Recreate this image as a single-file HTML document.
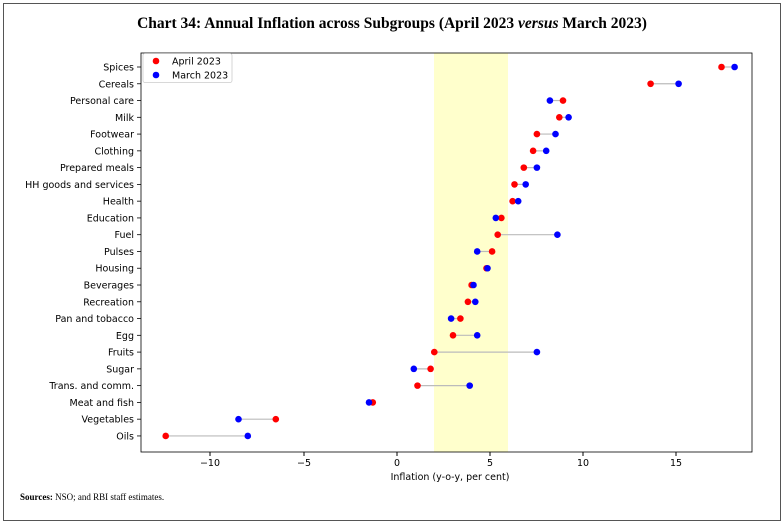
<!DOCTYPE html>
<html><head><meta charset="utf-8"><style>
body{margin:0;background:#fff;}
svg{display:block;}
</style></head><body>
<svg width="784" height="524" viewBox="0 0 784 524" xmlns="http://www.w3.org/2000/svg">
<rect x="3.5" y="3.5" width="777" height="517" fill="#fff" stroke="#555" stroke-width="1"/>
<text x="392" y="28" text-anchor="middle" font-family="Liberation Serif, serif" font-size="15.5" font-weight="bold">Chart 34: Annual Inflation across Subgroups (April 2023 <tspan font-style="italic">versus</tspan> March 2023)</text>
<rect x="434" y="53" width="74" height="399" fill="#ffffcc"/>
<g stroke="#bbb" stroke-width="1.2">
<line x1="721.5" y1="67" x2="734.6" y2="67"/>
<line x1="650.6" y1="83.77" x2="678.6" y2="83.77"/>
<line x1="563" y1="100.54" x2="549.9" y2="100.54"/>
<line x1="559.3" y1="117.31" x2="568.6" y2="117.31"/>
<line x1="536.9" y1="134.08" x2="555.5" y2="134.08"/>
<line x1="533.1" y1="150.85" x2="546.2" y2="150.85"/>
<line x1="523.8" y1="167.62" x2="536.9" y2="167.62"/>
<line x1="514.5" y1="184.39" x2="525.7" y2="184.39"/>
<line x1="512.6" y1="201.16" x2="518.2" y2="201.16"/>
<line x1="501.4" y1="217.93" x2="495.8" y2="217.93"/>
<line x1="497.7" y1="234.7" x2="557.4" y2="234.7"/>
<line x1="492.1" y1="251.47" x2="477.2" y2="251.47"/>
<line x1="471.6" y1="285.01" x2="473.5" y2="285.01"/>
<line x1="467.9" y1="301.78" x2="475.3" y2="301.78"/>
<line x1="460.4" y1="318.55" x2="451.1" y2="318.55"/>
<line x1="453" y1="335.32" x2="477.2" y2="335.32"/>
<line x1="434.3" y1="352.09" x2="536.9" y2="352.09"/>
<line x1="430.6" y1="368.86" x2="413.8" y2="368.86"/>
<line x1="417.5" y1="385.63" x2="469.7" y2="385.63"/>
<line x1="372.8" y1="402.4" x2="369" y2="402.4"/>
<line x1="275.8" y1="419.17" x2="238.5" y2="419.17"/>
<line x1="165.7" y1="435.94" x2="247.8" y2="435.94"/>
</g>
<g fill="red">
<circle cx="721.5" cy="67" r="3.3"/><circle cx="650.6" cy="83.77" r="3.3"/><circle cx="563" cy="100.54" r="3.3"/><circle cx="559.3" cy="117.31" r="3.3"/><circle cx="536.9" cy="134.08" r="3.3"/><circle cx="533.1" cy="150.85" r="3.3"/><circle cx="523.8" cy="167.62" r="3.3"/><circle cx="514.5" cy="184.39" r="3.3"/><circle cx="512.6" cy="201.16" r="3.3"/><circle cx="501.4" cy="217.93" r="3.3"/><circle cx="497.7" cy="234.7" r="3.3"/><circle cx="492.1" cy="251.47" r="3.3"/><circle cx="486.5" cy="268.24" r="3.3"/><circle cx="471.6" cy="285.01" r="3.3"/><circle cx="467.9" cy="301.78" r="3.3"/><circle cx="460.4" cy="318.55" r="3.3"/><circle cx="453" cy="335.32" r="3.3"/><circle cx="434.3" cy="352.09" r="3.3"/><circle cx="430.6" cy="368.86" r="3.3"/><circle cx="417.5" cy="385.63" r="3.3"/><circle cx="372.8" cy="402.4" r="3.3"/><circle cx="275.8" cy="419.17" r="3.3"/><circle cx="165.7" cy="435.94" r="3.3"/>
</g>
<g fill="blue">
<circle cx="734.6" cy="67" r="3.3"/><circle cx="678.6" cy="83.77" r="3.3"/><circle cx="549.9" cy="100.54" r="3.3"/><circle cx="568.6" cy="117.31" r="3.3"/><circle cx="555.5" cy="134.08" r="3.3"/><circle cx="546.2" cy="150.85" r="3.3"/><circle cx="536.9" cy="167.62" r="3.3"/><circle cx="525.7" cy="184.39" r="3.3"/><circle cx="518.2" cy="201.16" r="3.3"/><circle cx="495.8" cy="217.93" r="3.3"/><circle cx="557.4" cy="234.7" r="3.3"/><circle cx="477.2" cy="251.47" r="3.3"/><circle cx="487.5" cy="268.24" r="3.3"/><circle cx="473.5" cy="285.01" r="3.3"/><circle cx="475.3" cy="301.78" r="3.3"/><circle cx="451.1" cy="318.55" r="3.3"/><circle cx="477.2" cy="335.32" r="3.3"/><circle cx="536.9" cy="352.09" r="3.3"/><circle cx="413.8" cy="368.86" r="3.3"/><circle cx="469.7" cy="385.63" r="3.3"/><circle cx="369" cy="402.4" r="3.3"/><circle cx="238.5" cy="419.17" r="3.3"/><circle cx="247.8" cy="435.94" r="3.3"/>
</g>
<g font-family="DejaVu Sans, sans-serif" font-size="9.5" text-anchor="end">
<text x="134" y="70.5">Spices</text>
<text x="134" y="87.3">Cereals</text>
<text x="134" y="104">Personal care</text>
<text x="134" y="120.8">Milk</text>
<text x="134" y="137.6">Footwear</text>
<text x="134" y="154.4">Clothing</text>
<text x="134" y="171.1">Prepared meals</text>
<text x="134" y="187.9">HH goods and services</text>
<text x="134" y="204.7">Health</text>
<text x="134" y="221.4">Education</text>
<text x="134" y="238.2">Fuel</text>
<text x="134" y="255">Pulses</text>
<text x="134" y="271.7">Housing</text>
<text x="134" y="288.5">Beverages</text>
<text x="134" y="305.3">Recreation</text>
<text x="134" y="322">Pan and tobacco</text>
<text x="134" y="338.8">Egg</text>
<text x="134" y="355.6">Fruits</text>
<text x="134" y="372.4">Sugar</text>
<text x="134" y="389.1">Trans. and comm.</text>
<text x="134" y="405.9">Meat and fish</text>
<text x="134" y="422.7">Vegetables</text>
<text x="134" y="439.4">Oils</text>
</g>
<g stroke="#000" stroke-width="0.8">
<line x1="137" y1="67" x2="141" y2="67"/><line x1="137" y1="83.77" x2="141" y2="83.77"/><line x1="137" y1="100.54" x2="141" y2="100.54"/><line x1="137" y1="117.31" x2="141" y2="117.31"/><line x1="137" y1="134.08" x2="141" y2="134.08"/><line x1="137" y1="150.85" x2="141" y2="150.85"/><line x1="137" y1="167.62" x2="141" y2="167.62"/><line x1="137" y1="184.39" x2="141" y2="184.39"/><line x1="137" y1="201.16" x2="141" y2="201.16"/><line x1="137" y1="217.93" x2="141" y2="217.93"/><line x1="137" y1="234.7" x2="141" y2="234.7"/><line x1="137" y1="251.47" x2="141" y2="251.47"/><line x1="137" y1="268.24" x2="141" y2="268.24"/><line x1="137" y1="285.01" x2="141" y2="285.01"/><line x1="137" y1="301.78" x2="141" y2="301.78"/><line x1="137" y1="318.55" x2="141" y2="318.55"/><line x1="137" y1="335.32" x2="141" y2="335.32"/><line x1="137" y1="352.09" x2="141" y2="352.09"/><line x1="137" y1="368.86" x2="141" y2="368.86"/><line x1="137" y1="385.63" x2="141" y2="385.63"/><line x1="137" y1="402.4" x2="141" y2="402.4"/><line x1="137" y1="419.17" x2="141" y2="419.17"/><line x1="137" y1="435.94" x2="141" y2="435.94"/>
</g>
<rect x="141" y="53" width="611" height="399" fill="none" stroke="#000" stroke-width="0.8"/>
<g font-family="DejaVu Sans, sans-serif" font-size="9.5" text-anchor="middle">
<line x1="210" y1="452" x2="210" y2="456" stroke="#000"/><text x="210" y="466">−10</text>
<line x1="304" y1="452" x2="304" y2="456" stroke="#000"/><text x="304" y="466">−5</text>
<line x1="397" y1="452" x2="397" y2="456" stroke="#000"/><text x="397" y="466">0</text>
<line x1="490" y1="452" x2="490" y2="456" stroke="#000"/><text x="490" y="466">5</text>
<line x1="583" y1="452" x2="583" y2="456" stroke="#000"/><text x="583" y="466">10</text>
<line x1="676" y1="452" x2="676" y2="456" stroke="#000"/><text x="676" y="466">15</text>
<text x="450" y="480">Inflation (y-o-y, per cent)</text>
</g>
<rect x="143" y="53.5" width="89" height="29" fill="#fff" stroke="#ccc" stroke-width="0.8" rx="2"/>
<circle cx="156" cy="61" r="3.3" fill="red"/><text x="172" y="64.5" font-family="DejaVu Sans, sans-serif" font-size="9.5">April 2023</text>
<circle cx="156" cy="75" r="3.3" fill="blue"/><text x="172" y="78.5" font-family="DejaVu Sans, sans-serif" font-size="9.5">March 2023</text>
<text x="20" y="500" font-family="Liberation Serif, serif" font-size="9"><tspan font-weight="bold">Sources:</tspan> NSO; and RBI staff estimates.</text>
</svg>
</body></html>
